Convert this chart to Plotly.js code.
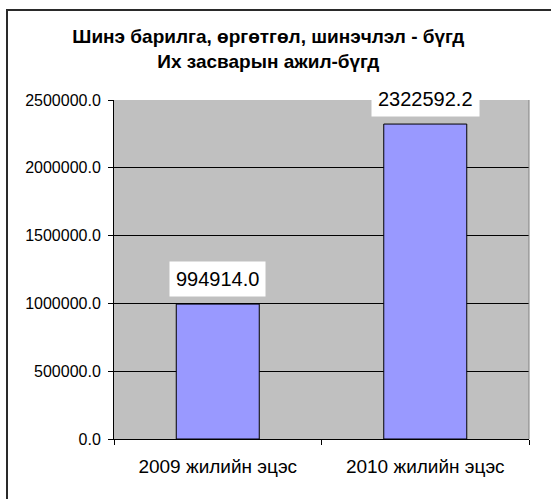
<!DOCTYPE html>
<html>
<head>
<meta charset="utf-8">
<script src="https://cdn.plot.ly/plotly-3.0.1.min.js"></script>
<style>
html,body{margin:0;padding:0;background:#fff;}
#chart{width:551px;height:499px;}
</style>
</head>
<body>
<div id="chart"></div>
<script>
const categories = ["2009 жилийн эцэс", "2010 жилийн эцэс"];
const values = [994914.0, 2322592.2];
const titleText = "Шинэ барилга, өргөтгөл, шинэчлэл - бүгд<br>Их засварын ажил-бүгд";
const yTickValues = [0, 500000, 1000000, 1500000, 2000000, 2500000];

const FONT = "'Liberation Sans', Arial, sans-serif";

const trace = {
  type: "bar",
  x: categories,
  y: values,
  marker: {color: "#9999FF", line: {color: "#000000", width: 1}},
  hoverinfo: "none"
};

const annotations = categories.map((c, i) => ({
  x: c, y: values[i], xref: "x", yref: "y",
  text: values[i].toFixed(1),
  showarrow: false,
  yanchor: "bottom",
  yshift: 7,
  bgcolor: "#FFFFFF",
  borderpad: 6,
  font: {family: FONT, size: 20, color: "#000"}
}));

const layout = {
  width: 551, height: 499,
  margin: {l: 114, r: 22, t: 100, b: 60},
  paper_bgcolor: "#FFFFFF",
  plot_bgcolor: "#C0C0C0",
  font: {family: FONT, color: "#000"},
  showlegend: false,
  bargap: 0.6,
  title: {
    text: titleText,
    font: {family: FONT, size: 19, color: "#000", weight: "bold"},
    x: 0.487, xanchor: "center", xref: "container",
    y: 0.914, yanchor: "top", yref: "container"
  },
  xaxis: {
    type: "category",
    tickson: "boundaries",
    ticks: "outside", ticklen: 5, tickcolor: "#000",
    showline: true, linecolor: "#000", linewidth: 1,
    showgrid: false,
    tickfont: {family: FONT, size: 19, color: "#000"},
    ticklabelstandoff: 10,
    fixedrange: true
  },
  yaxis: {
    range: [0, 2500000],
    tickvals: yTickValues,
    tickformat: ".1f",
    ticks: "outside", ticklen: 5, tickcolor: "#000",
    showline: true, linecolor: "#000", linewidth: 1,
    showgrid: true, gridcolor: "#000", gridwidth: 1,
    zeroline: false,
    tickfont: {family: FONT, size: 16, color: "#000"},
    ticklabelstandoff: 4,
    fixedrange: true
  },
  shapes: [
    {type: "line", xref: "paper", yref: "paper", x0: 1, x1: 1, y0: 0, y1: 1,
     line: {color: "#808080", width: 1}},
    {type: "rect", xref: "paper", yref: "paper",
     x0: (7 - 114) / 415, x1: (600 - 114) / 415,
     y0: (439 - 560) / 339, y1: (439 - 10) / 339,
     line: {color: "#2a2a2a", width: 2}, fillcolor: "rgba(0,0,0,0)"}
  ],
  annotations: annotations
};

Plotly.newPlot("chart", [trace], layout, {displayModeBar: false, staticPlot: true});
</script>
</body>
</html>
